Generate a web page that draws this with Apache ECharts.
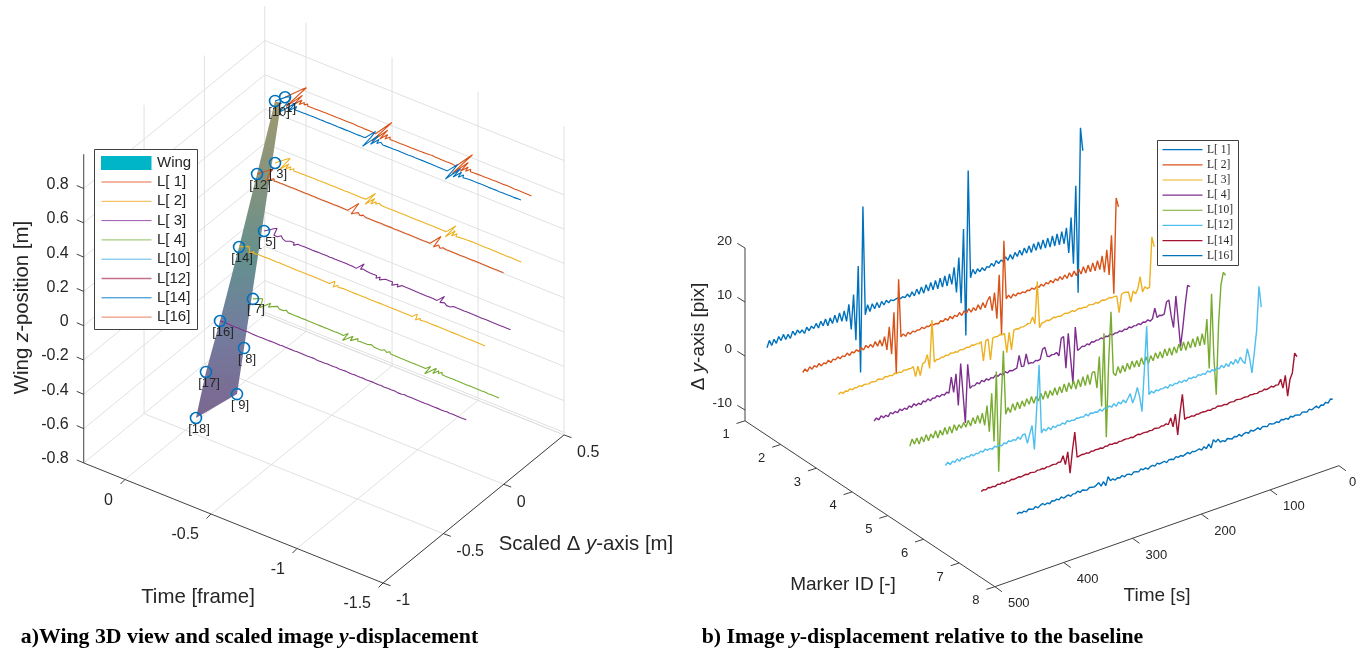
<!DOCTYPE html>
<html>
<head>
<meta charset="utf-8">
<style>
	html, body { margin: 0; padding: 0; background: #fff; }
	#chart { width: 1362px; height: 652px; }
</style>
</head>
<body>
<div id="chart"></div>
<script src="https://cdn.jsdelivr.net/npm/echarts@6/dist/echarts.min.js"></script>
<script>
// displacement traces [pix], one value every tStep seconds starting from tStart
const tStart = 468
const tStep = 3.4
const l1 = [.1,1.3,.2,1.2,.3,1.4,.5,1.5,.4,1.2,.3,1.5,.6,1.4,.7,1.1,.3,1.3,.5,1.2,.6,1.4,.4,1.5,.5,1.6,.2,1.5,.3,1.7,.2,1.8,.1,1.9,
	-.2,2.8,-2,4.3,-4.3,9.3,-10.6,20,-.2,
	1.5,.1,1.4,.3,1.3,.2,1.2,.4,1.1,.5,.9,.6,.7,.8,.5,.7,.4,.9,.2,1,.1,1.2,.1,1.3,0,1.4,.1,1.5,0,1.6,-.1,1.7,-.1,1.8,-.2,1.9,-.2,
	2.8,-2,4.3,-4.3,9.3,-10.6,19.8,-.2,
	1.2,.2,1,.3,.9,.2,.8,.5,1.1,.4,1.3,.6,1.1,.7,1.4,.6,1.5,.5,1.6,.7,1.7,.6,1.8,.7,1.9,.5,2,.6,2,.5,2.1,.4,2.1,.3,2.2,.2,2.3,.1,2.4,0,
	2.8,-2,4.4,-4.3,10,-10,20.4,16]
const l2 = [-.1,.4,-.2,.5,-.1,.4,0,.5,-.1,.3,0,.5,-.1,.4,.1,.5,0,.4,.1,.6,0,.5,.2,.6,.1,.7,.1,.8,.2,.7,0,.9,-.1,.9,
	-.4,1.2,-1.4,2.7,-2.5,5.1,-6.3,10.9,.1,
	.5,-.1,.5,0,.4,.1,.3,.2,.5,.1,.4,.2,.5,.2,.3,.1,.5,.2,.6,.1,.7,.1,.6,.2,.8,.1,.8,.2,.9,.1,.8,.1,1,0,1.1,0,1.2,
	1.8,-1,2.2,-2.8,5.2,-5.9,11.2,.3,
	.8,.1,.7,.2,.6,.3,.5,.2,.5,.3,.6,.2,.6,.3,.7,.2,.7,.3,.8,.2,.8,.3,.9,.2,.9,.1,1,.1,1,0,1.1,0,1.2,-.1,1.2,-.2,1.3,-.3,1.4,-.4,
	2,-1.2,2.8,-2,5.2,-5.8,11.8,10]
const l3 = [.2,.5,.1,.4,.2,.5,.2,.4,.3,.5,.2,.4,.3,.2,.4,.3,.2,.5,.3,.2,.5,.3,.4,.2,.5,.3,.4,.2,.5,.3,.4,.3,.5,-1.5,
	.3,-1.6,.4,.6,1.8,-.9,7.9,0,.3,
	.2,.4,.3,.5,.3,.6,.4,.5,.3,.6,.4,.5,.6,.4,.7,.5,.6,.5,.7,-3,.6,.7,-3.3,.6,.7,.6,.8,.6,.7,-3,.6,-2.8,.7,.8,.6,.8,.7,
	.8,1,.9,1.9,.5,8.2,-.5,.2,
	.2,.4,.2,.3,.5,.3,.4,.2,.4,.5,.3,.4,.5,.2,.4,.5,.3,.4,.2,.5,.4,.3,.5,.2,.4,.5,.3,.4,.5,.3,.4,.3,-2.9,.3,.5,.4,.3,-1.7,.2,-.5,
	.3,2.4,-.6,.2,-.3,-.2,9,7]
const l4 = [-.3,.1,-.4,.2,-.3,0,-.4,.2,-.2,.1,-.3,.2,-.2,.1,-.3,.2,-.2,.3,-.2,.1,-.3,.2,-.1,.3,-.2,.1,0,.3,-.1,.2,-.1,.3,0,2.8,
	-.2,3.1,-2.9,4.7,-1,-6.6,4.1,-.5,-.2,
	-.3,.1,-.3,.2,-.2,.2,-.2,.1,-.1,.3,-.1,.2,-.2,.3,-.1,.2,0,.1,.2,2.4,.2,.1,2.2,.2,.3,.1,.4,.2,.3,2,2.2,.4,.2,.4,.3,.5,-.3,
	2.8,3,-3,3.3,-1.5,-6.3,4,-.5,
	-.3,0,-.2,.1,-.2,.2,0,.2,.1,.3,0,.3,.1,.4,.1,.3,.2,.4,.1,.4,.2,.5,.2,.4,.3,.5,.2,.5,.3,.6,.2,.5,2.3,.4,.7,.5,.6,2.7,2.9,-.2,
	-2.5,3.2,-1.5,-6.5,-3,1,4.4,4]
const l10 = [-.6,.6,-.5,.5,-.8,.4,-.7,.5,-.8,.3,-.6,.6,-.9,.4,-.7,.6,-.8,.5,-.9,.5,-.7,.2,-.6,.3,-.7,.4,-.8,.6,-.7,.7,-.9,.8,-1.6,1.9,
	-3.1,3.9,-5.2,7.6,-11.1,1,11,-.9,.2,
	-.9,.6,-.8,.6,-.8,.5,-.7,.6,-.6,.7,-.7,.4,-.6,.7,-.6,.8,-.7,.6,-.5,.8,-.7,.7,-.6,.9,-.7,.8,-.5,.9,-.8,.8,-.7,1,-.8,1.1,-.9,1.2,1.2,
	-2,3.7,-5.7,7.7,-11.7,2,11.2,-.3,
	-.9,.6,-.8,.5,-.8,.6,-.7,.7,-.6,.5,-.8,.7,-.7,.6,-.8,.5,-.6,.7,-.5,.6,-.7,.8,-.6,.7,-.8,.6,-.7,.8,-.6,.9,-.8,.7,-.7,.9,-.8,1,-.9,1.2,-1,3.6,
	-5.7,8,-4,-11,2,9,11.2,10.5]
const l12 = [.2,.7,.1,.6,.2,.7,.1,.6,.2,.5,.3,.6,.2,.5,.3,.6,.3,.7,.3,.5,.2,.6,.3,.5,.2,.6,.3,.7,.4,.6,.3,.8,.2,.9,
	.9,-1,.6,2,-2.6,5,12.8,0,.6,
	.1,.6,0,.5,.1,.4,.2,.5,.1,.6,.3,.4,.2,.5,.3,.4,.2,.6,.1,.5,.3,.4,.2,.6,.1,.5,.3,.6,.2,.7,.1,.7,.2,.8,.1,.8,1.5,
	-.4,.6,2.2,.3,-2.6,5,12.9,.1,
	.6,.1,.5,.2,.4,.3,.5,.1,.6,.2,.5,.3,.6,.2,.5,.1,.6,.3,.5,.2,.6,.3,.5,.2,.7,.3,.6,.2,.7,.3,.8,.2,.8,.1,.9,.2,1,.1,1.1,.2,
	-.4,2.2,.3,-2.6,1,5,13,9]
const l14 = [-.2,0,-.2,.1,-.1,0,-.2,.1,-.1,.1,-.2,0,-.1,.1,-.1,0,.1,-.1,0,.1,-.1,.1,0,-.1,.1,0,.1,-.1,.1,0,.1,.1,0,.2,
	.1,1.1,-.7,1.5,-2.6,1.5,4.7,-.1,0,
	.1,0,.1,-.1,.1,0,.1,0,.1,-.1,.1,0,.2,0,.1,-.1,.1,0,.1,.1,0,.1,-.1,.1,.2,0,.1,.1,0,.1,0,.2,.1,0,.2,.1,.3,
	0,1.1,-.7,1.5,-2.5,1.5,4.7,-.1,
	.1,0,.1,-.1,.1,0,.1,.1,0,.1,-.1,.1,0,.2,.1,0,.1,-.1,.1,.1,0,.2,.1,0,.1,.1,0,.2,.1,.1,0,.2,.1,.3,.1,.2,.4,.1,.3,.2,
	1.1,-.7,1.5,-2.5,.5,1.5,5,4.2]
const l16 = [0,.2,-.1,.1,-.2,.2,0,-.1,.2,-.2,.1,.3,-.1,.1,-.2,.2,0,.2,-.1,.3,-.1,.1,.2,-.2,.1,0,.3,-.1,.2,0,-.1,.2,.1,0,
	.2,.5,-.3,.4,-.5,1,.1,.3,-.1,
	.2,0,.3,-.1,.2,.1,-.2,.2,.1,-.1,.3,0,.2,-.2,.1,.2,-.1,.3,0,.1,.2,-.2,.2,.1,-.1,.3,0,.2,-.1,.1,.3,-.1,.2,0,.1,.2,-.2,
	.3,-.2,.5,-.4,1,.4,.8,.1,
	.2,-.1,.3,.1,-.1,.2,0,.3,-.2,.1,.2,-.1,.3,0,.1,.3,-.2,.2,.1,-.1,.3,.1,0,.2,-.1,.3,.1,.2,-.1,.3,0,.2,.1,-.1,.3,.2,0,.4,.1,.3,
	.5,0,.4,.2,.6,.3,.9,.7]
const traces = [l1, l2, l3, l4, l10, l12, l14, l16]
const traceNames = ['L[ 1]', 'L[ 2]', 'L[ 3]', 'L[ 4]', 'L[10]', 'L[12]', 'L[14]', 'L[16]']
const markerRow = [1, 2, 3, 4, 5, 6, 7, 8]

// wing markers: scaled y position [m] and height [m]
const markerIds = ['[ 1]', '[10]', '[ 3]', '[12]', '[ 5]', '[14]', '[ 7]', '[16]', '[ 8]', '[17]', '[ 9]', '[18]']
const markerS = [.326, .243, .243, .094, .152, -.055, .06, -.213, -.014, -.329, -.072, -.412]
const markerZ = [.666, .692, .33, .352, -.014, .012, -.357, -.329, -.601, -.559, -.836, -.78]
const wingS = [.243, .094, -.055, -.213, -.329, -.412, -.072, -.014, .293]
const wingZ = [.692, .352, .012, -.329, -.559, -.78, -.836, -.601, .651]
// which marker each trace starts from in the left plot
const traceMarker = [0, 2, 4, 6, 1, 3, 5, 7]

// tick labels
const leftZTicks = [-.8, -.6, -.4, -.2, 0, .2, .4, .6, .8]
const leftTTicks = [0, -.5, -1, -1.5]
const leftSTicks = [-1, -.5, 0, .5]
const rightVTicks = [-10, 0, 10, 20]
const rightMTicks = [1, 2, 3, 4, 5, 6, 7, 8]
const rightTTicks = [0, 100, 200, 300, 400, 500]

// colours
const leftColors = ['#d95319', '#edb120', '#7e2f8e', '#77ac30', '#0072bd', '#d95319', '#edb120', '#7e2f8e']
const leftLegendColors = ['#ef9d7f', '#f0b545', '#9a58ae', '#8fbf5f', '#5cb8ea', '#c4708c', '#1580c8', '#e8805e']
const leftLegendWidths = [1.6, 1, 1, 1, 1, 1.6, 1, 1]
const rightColors = ['#0072bd', '#d95319', '#edb120', '#7e2f8e', '#77ac30', '#4dbeee', '#a2142f', '#0072bd']

const axisColor = '#404040'
const gridColor = '#e0e0e0'
const textColor = '#262626'
const sans = '"Liberation Sans", Arial, sans-serif'
const serif = '"Liberation Serif", serif'

// left plot projection (time, scaled y, height) -> page
function projA(T, S, z) {
	return [
		383 - (T + 1.5) * 172 + (S + 1) * 120.7,
		583 - (T + 1.5) * 69 - (S + 1) * 98.7 - (z + .8) * 171.5,
	]
}
// right plot projection (time, marker, displacement) -> page
function projB(t, m, v) {
	return [
		745 + (500 - t) * .688 + (m - 1) * 35.7,
		356 - (500 - t) * .242 + (m - 1) * 23.7 - v * 5.4,
	]
}

const series = []
const graphics = []

function addLine(points, color, width, z) {
	series.push({
		type: 'line',
		data: points,
		symbol: 'none',
		clip: false,
		silent: true,
		animation: false,
		z: z,
		lineStyle: { color: color, width: width },
	})
}
function addTick(p, dx, dy) {
	addLine([p, [p[0] + dx, p[1] + dy]], axisColor, 1, 2)
}
function addText(text, x, y, font, align) {
	graphics.push({
		type: 'text',
		x: x,
		y: y,
		z: 50,
		style: { text: text, font: font, fill: textColor, align: align, verticalAlign: 'middle', textAlign: align, textVerticalAlign: 'middle' },
	})
}
function addRichText(text, rich, x, y, rotation) {
	graphics.push({
		type: 'text',
		x: x,
		y: y,
		z: 50,
		rotation: rotation || 0,
		style: { text: text, rich: rich, fill: textColor, align: 'center', verticalAlign: 'middle', textAlign: 'center', textVerticalAlign: 'middle' },
	})
}

// ---- left plot grid ----
const Tmax = .24, Tmin = -1.5, Smin = -1, Smax = .5, Zmin = -.8, Zmax = 1
leftZTicks.forEach((z) => {
	addLine([projA(Tmax, Smin, z), projA(Tmax, Smax, z), projA(Tmin, Smax, z)], gridColor, 1, 1)
})
// floor edge shows doubled in the original
addLine([projA(Tmax, Smax, Zmin + .015), projA(Tmin, Smax, Zmin + .015)], gridColor, 1, 1)
leftSTicks.slice(1).forEach((S) => {
	addLine([projA(Tmax, S, Zmin), projA(Tmax, S, Zmax)], gridColor, 1, 1)
	addLine([projA(Tmin, S, Zmin), projA(Tmax, S, Zmin)], gridColor, 1, 1)
})
leftTTicks.forEach((T) => {
	addLine([projA(T, Smax, Zmin), projA(T, Smax, Zmax)], gridColor, 1, 1)
	addLine([projA(T, Smin, Zmin), projA(T, Smax, Zmin)], gridColor, 1, 1)
})

// ---- left plot axes ----
addLine([projA(Tmax, Smin, Zmax), projA(Tmax, Smin, Zmin), projA(Tmin, Smin, Zmin), projA(Tmin, Smax, Zmin)], axisColor, 1, 2)
leftZTicks.forEach((z) => {
	const p = projA(Tmax, Smin, z)
	addTick(p, -7, -3)
	addText(z === 0 ? '0' : String(z), p[0] - 15, p[1] - 4, '16px ' + sans, 'right')
})
leftTTicks.forEach((T) => {
	const p = projA(T, Smin, Zmin)
	addTick(p, -4.5, 4.5)
	addText(String(T), p[0] - 12, p[1] + 21, '16px ' + sans, 'right')
})
leftSTicks.forEach((S) => {
	const p = projA(Tmin, S, Zmin)
	addTick(p, 7.5, 2.7)
	addText(String(S), p[0] + 13, p[1] + 18, '16px ' + sans, 'left')
})

// ---- wing surface ----
const wingPoints = wingS.map((s, i) => projA(0, s, wingZ[i]))
series.push({
	type: 'custom',
	data: wingPoints,
	silent: true,
	animation: false,
	clip: false,
	z: 3,
	renderItem: (params, api) => {
		if (params.dataIndex > 0) return
		return {
			type: 'polygon',
			shape: { points: wingPoints.map((p) => api.coord(p)) },
			style: {
				fill: new echarts.graphic.LinearGradient(0, 0, 0, 1, [
					{ offset: 0, color: '#a09a70' },
					{ offset: .3, color: '#7f9280' },
					{ offset: .5, color: '#64908f' },
					{ offset: .72, color: '#737d9e' },
					{ offset: 1, color: '#7c6690' },
				]),
			},
		}
	},
})

// ---- left plot traces, same displacement data scaled into metres ----
const frameScale = .00306
const yScale = .006
traces.forEach((values, k) => {
	const mk = traceMarker[k]
	const pts = values.map((v, i) => {
		const t = tStart - tStep * i
		return projA(-t * frameScale, markerS[mk] + v * yScale, markerZ[mk])
	})
	pts.push(projA(0, markerS[mk], markerZ[mk]))
	addLine(pts, leftColors[k], 1.1, 4)
})

// ---- wing markers ----
const labelOffsets = { '[ 1]': [2, 11], '[10]': [4, 11] }
series.push({
	type: 'scatter',
	silent: true,
	animation: false,
	clip: false,
	z: 5,
	symbol: 'circle',
	symbolSize: 11,
	itemStyle: { color: 'rgba(0,0,0,0)', borderColor: '#0072bd', borderWidth: 1.6, opacity: 1 },
	data: markerIds.map((id, i) => ({
		name: id,
		value: projA(0, markerS[i], markerZ[i]),
		label: {
			show: true,
			position: 'inside',
			formatter: id,
			offset: labelOffsets[id] || [3, 11],
			color: textColor,
			fontFamily: 'Liberation Sans',
			fontSize: 13,
		},
	})),
})

// ---- right plot axes ----
const tMax = 500, mMax = 8, vMin = -12, vTop = 20
addLine([projB(tMax, 1, vTop), projB(tMax, 1, vMin), projB(tMax, mMax, vMin), projB(0, mMax, vMin)], axisColor, 1, 2)
rightVTicks.forEach((v) => {
	const p = projB(tMax, 1, v)
	addTick(p, -7.7, -4.7)
	addText(String(v), p[0] - 13, p[1] - 7, '13.5px ' + sans, 'right')
})
rightMTicks.forEach((m) => {
	const p = projB(tMax, m, vMin)
	addTick(p, -8.5, 2.7)
	addText(String(m), p[0] - 19, p[1] + 14, '13px ' + sans, 'center')
})
rightTTicks.forEach((t) => {
	const p = projB(t, mMax, vMin)
	addTick(p, 7, 5)
	addText(String(t), p[0] + (t === 0 ? 10 : 13), p[1] + 17, '13px ' + sans, 'left')
})

// ---- right plot traces ----
traces.forEach((values, k) => {
	const pts = values.map((v, i) => projB(tStart - tStep * i, markerRow[k], v))
	addLine(pts, rightColors[k], 1.4, 4 + k * .01)
})

// ---- axis titles and captions ----
const titleRich = {
	n: { font: '20.4px ' + sans, fill: textColor },
	i: { font: 'italic 20.4px ' + sans, fill: textColor },
}
const titleRichB = {
	n: { font: '19px ' + sans, fill: textColor },
	i: { font: 'italic 19px ' + sans, fill: textColor },
}
addRichText('{n|Wing }{i|z}{n|-position [m]}', titleRich, 22, 307.5, Math.PI / 2)
addText('Time [frame]', 198, 597, '20.4px ' + sans, 'center')
addRichText('{n|Scaled Δ }{i|y}{n|-axis [m]}', titleRich, 586, 544)
addRichText('{n|Δ }{i|y}{n|-axis [pix]}', titleRichB, 699, 336.5, Math.PI / 2)
addText('Marker ID [-]', 843, 585, '19px ' + sans, 'center')
addText('Time [s]', 1157, 596, '19px ' + sans, 'center')

const capRich = {
	b: { font: 'bold 21.8px ' + serif, fill: '#000' },
	i: { font: 'italic bold 21.8px ' + serif, fill: '#000' },
}
addRichText('{b|a)Wing 3D view and scaled image }{i|y}{b|-displacement}', capRich, 249.5, 637)
addRichText('{b|b) Image }{i|y}{b|-displacement relative to the baseline}', capRich, 922.5, 637)

// ---- legends ----
function addBox(x, y, w, h) {
	graphics.push({
		type: 'rect',
		z: 40,
		shape: { x: x, y: y, width: w, height: h },
		style: { fill: '#fff', stroke: axisColor, lineWidth: 1 },
	})
}
function addLegendLine(x1, x2, y, color, width) {
	graphics.push({
		type: 'line',
		z: 45,
		shape: { x1: x1, y1: y, x2: x2, y2: y },
		style: { stroke: color, lineWidth: width },
	})
}
addBox(94.5, 149.5, 103, 180)
graphics.push({
	type: 'rect',
	z: 45,
	shape: { x: 101, y: 156, width: 50.5, height: 14 },
	style: { fill: '#00b5c8' },
})
addText('Wing', 157, 163, '15px ' + sans, 'left')
traceNames.forEach((name, i) => {
	const y = 182 + i * 19.3
	addLegendLine(101.5, 151.5, y, leftLegendColors[i], leftLegendWidths[i])
	addText(name, 157, y, '15px ' + sans, 'left')
})
addBox(1157.5, 140.5, 81, 125)
traceNames.forEach((name, i) => {
	const y = 149.7 + i * 15.14
	addLegendLine(1162.5, 1202.5, y, rightColors[i], 1.2)
	addText(name, 1207, y, '11.5px ' + serif, 'left')
})

const chart = echarts.init(document.getElementById('chart'))
chart.setOption({
	animation: false,
	grid: { left: 0, right: 0, top: 0, bottom: 0 },
	xAxis: { type: 'value', min: 0, max: 1362, show: false },
	yAxis: { type: 'value', min: 0, max: 652, inverse: true, show: false },
	series: series,
	graphic: { elements: graphics },
})
</script>
</body>
</html>
